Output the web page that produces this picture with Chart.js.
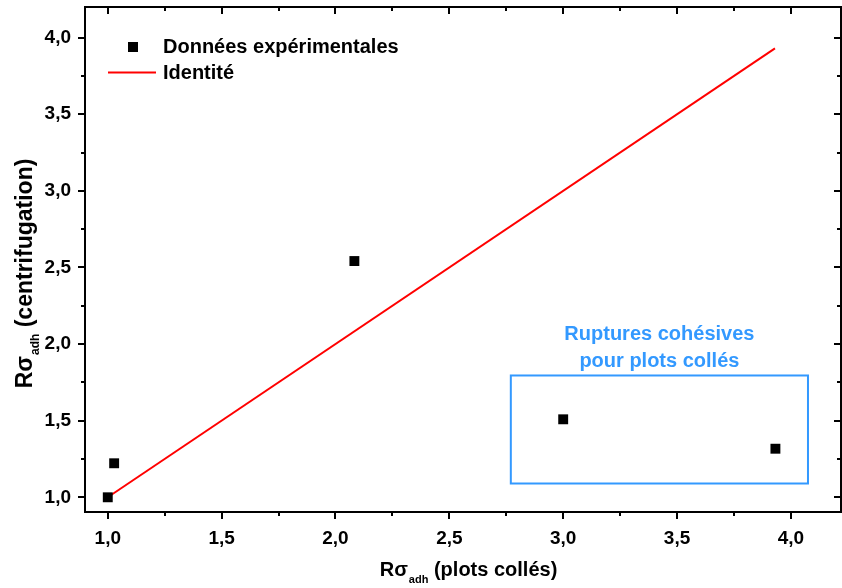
<!DOCTYPE html>
<html>
<head>
<meta charset="utf-8">
<script src="https://cdn.jsdelivr.net/npm/chart.js@4.4.0/dist/chart.umd.min.js"></script>
<style>
  html, body { margin: 0; padding: 0; background: #fff; }
  #wrap { width: 842px; height: 588px; }
</style>
</head>
<body>
<div id="wrap"><canvas id="chart"></canvas></div>
<script>
// data
const xValues = [1.0, 1.028, 2.083, 3.0, 3.932];
const yValues = [1.0, 1.222, 2.542, 1.509, 1.317];
const identityX = [1.0, 3.93];
const identityY = [1.0, 3.93];
const xTicks = [1.0, 1.5, 2.0, 2.5, 3.0, 3.5, 4.0];
const yTicks = [1.0, 1.5, 2.0, 2.5, 3.0, 3.5, 4.0];
const seriesNames = ["Données expérimentales", "Identité"];
const boxLines = ["Ruptures cohésives", "pour plots collés"];
const boxRange = { x0: 2.77, x1: 4.075, y0: 1.09, y1: 1.795 };

const FONT = "Arial, 'Liberation Sans', sans-serif";
const BLUE = "#3399ff";
const fmt = v => v.toFixed(1).replace(".", ",");

// no auto padding so the plot frame lands where the reference has it
const noPad = s => { s.paddingTop = 0; s.paddingBottom = 0; s.paddingLeft = 0; s.paddingRight = 0; };

// frame, ticks, legend, box and axis titles
const decor = {
  id: "decor",
  afterDraw(chart) {
    const ctx = chart.ctx;
    const a = chart.chartArea;
    const xs = chart.scales.x, ys = chart.scales.y;
    ctx.save();

    // frame
    ctx.strokeStyle = "#000";
    ctx.lineWidth = 2;
    ctx.strokeRect(a.left, a.top, a.right - a.left, a.bottom - a.top);

    // ticks (major + minor), outward bottom/left, inward top/right
    ctx.beginPath();
    for (let v = 1.0; v <= 4.2; v += 0.25) {
      const major = Math.abs(v * 2 - Math.round(v * 2)) < 1e-6;
      const len = major ? 7 : 4;
      const px = Math.round(xs.getPixelForValue(v));
      if (px <= a.right) {
        ctx.moveTo(px, a.bottom); ctx.lineTo(px, a.bottom + len);
        ctx.moveTo(px, a.top); ctx.lineTo(px, a.top + len);
      }
      const py = Math.round(ys.getPixelForValue(v));
      if (py >= a.top) {
        ctx.moveTo(a.left, py); ctx.lineTo(a.left - len, py);
        ctx.moveTo(a.right, py); ctx.lineTo(a.right - len, py);
      }
    }
    ctx.stroke();

    // blue box + label
    const bx0 = xs.getPixelForValue(boxRange.x0), bx1 = xs.getPixelForValue(boxRange.x1);
    const by0 = ys.getPixelForValue(boxRange.y1), by1 = ys.getPixelForValue(boxRange.y0);
    ctx.strokeStyle = BLUE;
    ctx.lineWidth = 2;
    ctx.strokeRect(bx0, by0, bx1 - bx0, by1 - by0);
    ctx.fillStyle = BLUE;
    ctx.font = "bold 20px " + FONT;
    ctx.textAlign = "center";
    ctx.textBaseline = "middle";
    const cx = (bx0 + bx1) / 2;
    ctx.fillText(boxLines[0], cx, by0 - 41);
    ctx.fillText(boxLines[1], cx, by0 - 14);

    // legend
    ctx.fillStyle = "#000";
    ctx.fillRect(128, 42, 10, 10);
    ctx.strokeStyle = "#ff0000";
    ctx.lineWidth = 2;
    ctx.beginPath(); ctx.moveTo(108, 72.5); ctx.lineTo(156, 72.5); ctx.stroke();
    ctx.textAlign = "left";
    ctx.fillStyle = "#000";
    ctx.fillText(seriesNames[0], 163, 47);
    ctx.fillText(seriesNames[1], 163, 73);

    // axis titles with subscript
    const drawTitle = (x, y, tail, size, subSize) => {
      ctx.textAlign = "left";
      ctx.textBaseline = "alphabetic";
      ctx.font = "bold " + size + "px " + FONT;
      const w1 = ctx.measureText("Rσ").width;
      ctx.font = "bold " + subSize + "px " + FONT;
      const w2 = ctx.measureText("adh").width;
      ctx.font = "bold " + size + "px " + FONT;
      const w3 = ctx.measureText(tail).width;
      const sx = x - (w1 + w2 + w3) / 2;
      ctx.fillText("Rσ", sx, y);
      ctx.font = "bold " + subSize + "px " + FONT;
      ctx.fillText("adh", sx + w1 + 1, y + 7);
      ctx.font = "bold " + size + "px " + FONT;
      ctx.fillText(tail, sx + w1 + w2 + 1, y);
    };
    drawTitle(468, 576, " (plots collés)", 20, 11);
    ctx.save();
    ctx.translate(32, 274);
    ctx.rotate(-Math.PI / 2);
    drawTitle(0, 0, " (centrifugation)", 23, 12);
    ctx.restore();

    ctx.restore();
  }
};

new Chart(document.getElementById("chart"), {
  type: "scatter",
  data: {
    datasets: [
      {
        label: seriesNames[0],
        data: xValues.map((x, i) => ({ x, y: yValues[i] })),
        pointStyle: "rect",
        pointRadius: 7,
        pointHoverRadius: 7,
        backgroundColor: "#000",
        borderColor: "#000",
        borderWidth: 0
      },
      {
        label: seriesNames[1],
        data: identityX.map((x, i) => ({ x, y: identityY[i] })),
        showLine: true,
        pointRadius: 0,
        borderColor: "#ff0000",
        borderWidth: 2
      }
    ]
  },
  options: {
    responsive: true,
    maintainAspectRatio: false,
    animation: false,
    layout: { autoPadding: false, padding: { top: 7, right: 1, left: 0, bottom: 0 } },
    plugins: { legend: { display: false }, tooltip: { enabled: false } },
    scales: {
      x: {
        type: "linear",
        min: 0.9,
        max: 4.22,
        grid: { display: false },
        border: { display: false },
        afterBuildTicks: s => { s.ticks = xTicks.map(v => ({ value: v })); },
        afterFit: s => { s.height = 76; noPad(s); },
        ticks: {
          padding: 7,
          color: "#000",
          font: { family: FONT, size: 19, weight: "bold" },
          callback: v => fmt(v)
        }
      },
      y: {
        type: "linear",
        min: 0.904,
        max: 4.2,
        grid: { display: false },
        border: { display: false },
        afterBuildTicks: s => { s.ticks = yTicks.map(v => ({ value: v })); },
        afterFit: s => { s.width = 85; noPad(s); },
        ticks: {
          padding: 6,
          color: "#000",
          font: { family: FONT, size: 19, weight: "bold" },
          callback: v => fmt(v)
        }
      }
    }
  },
  plugins: [decor]
});
</script>
</body>
</html>
